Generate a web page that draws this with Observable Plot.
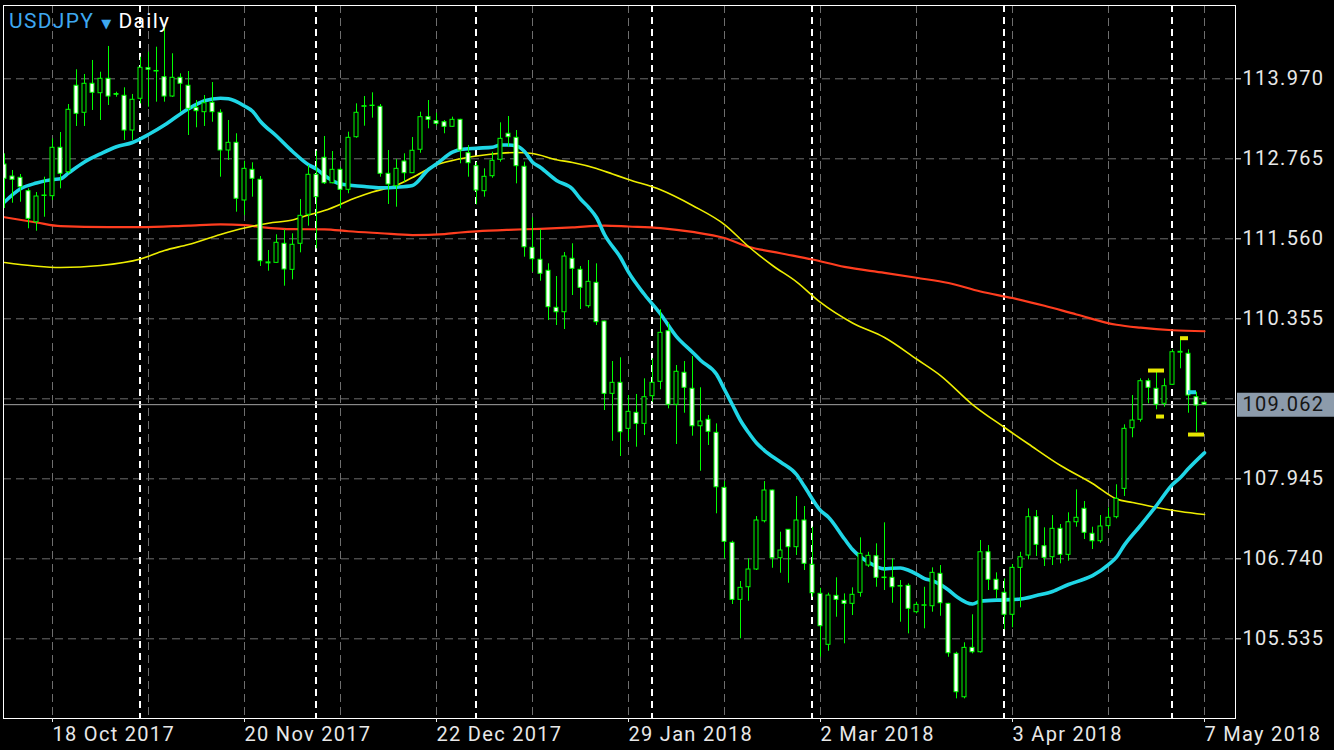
<!DOCTYPE html>
<html>
<head>
<meta charset="utf-8">
<script src="https://cdn.jsdelivr.net/npm/d3@7"></script>
<script src="https://cdn.jsdelivr.net/npm/@observablehq/plot@0.6"></script>
<style>
  html, body { margin: 0; padding: 0; background: #000; }
  #chart svg text { letter-spacing: 1.3px; }
</style>
</head>
<body>
<div id="chart"></div>
<script>
// ---- Data (USDJPY daily) ----
const symbol = "USDJPY";
const period = "Daily";

const open = [112.679,112.498,112.479,112.277,111.810,112.205,112.202,112.931,112.563,113.865,
113.458,113.895,113.753,113.970,113.740,113.714,113.191,113.669,114.130,114.080,
113.994,113.703,113.985,113.865,113.533,113.467,113.609,113.458,112.890,113.006,
112.137,112.599,112.449,111.190,111.198,111.485,111.093,111.485,111.922,112.524,
112.780,112.397,112.599,112.298,113.090,113.548,113.560,113.548,112.539,112.352,
112.724,112.548,112.901,113.392,113.331,113.316,113.247,113.352,112.849,112.654,
112.277,112.503,112.750,113.142,113.081,112.645,111.424,111.244,111.078,110.521,
110.454,111.259,111.093,110.545,110.897,110.314,109.225,109.391,108.698,108.939,
108.773,109.189,109.406,110.168,109.060,109.542,109.301,108.737,108.834,108.638,
107.809,106.981,106.122,106.312,106.579,107.306,107.769,106.749,107.177,106.915,
107.317,106.650,106.213,105.445,106.182,106.107,106.062,106.228,106.639,106.779,
106.450,106.454,106.322,106.333,105.936,106.033,106.026,106.514,106.062,105.309,
104.655,105.399,105.333,106.839,106.424,106.228,105.897,106.604,106.790,107.367,
106.930,106.764,107.192,106.800,107.291,107.493,107.117,107.005,107.232,107.367,
107.794,108.707,108.834,109.415,109.301,109.075,109.361,109.845,109.828,109.174,
109.090];

const high = [112.840,112.589,112.529,112.313,112.257,112.488,113.066,113.161,113.583,114.106,
114.035,114.246,114.069,114.457,113.768,113.834,113.734,114.295,114.371,114.446,
114.738,114.347,114.045,114.080,113.643,113.718,113.914,113.503,113.342,113.142,
112.729,112.705,112.498,111.384,111.620,111.696,111.635,112.152,112.664,112.879,
113.101,112.875,112.629,113.166,113.593,113.703,113.759,113.583,112.890,112.754,
112.840,113.086,113.467,113.643,113.452,113.342,113.392,113.360,112.965,112.709,
112.614,112.864,113.307,113.402,113.191,112.714,111.876,111.696,111.183,110.992,
111.354,111.485,111.143,111.233,111.183,110.320,109.712,109.768,109.200,109.215,
109.451,109.753,110.491,110.295,109.652,109.712,109.787,109.316,108.898,108.773,
107.904,107.005,106.398,106.740,107.377,107.904,107.775,107.141,107.180,107.678,
107.528,107.216,106.297,106.222,106.454,106.212,106.303,107.056,106.839,106.966,
107.282,106.740,106.413,106.363,106.087,106.312,106.604,106.639,106.070,105.333,
105.475,105.897,107.016,106.940,106.529,106.439,106.654,106.839,107.493,107.468,
107.207,107.392,107.257,107.433,107.779,107.603,107.216,107.392,107.508,107.855,
108.758,109.200,109.451,109.451,109.551,109.451,109.888,110.054,109.888,109.249,
109.100];

const low = [112.016,112.096,112.111,111.711,111.674,111.885,112.137,112.313,112.540,113.252,
113.252,113.493,113.342,113.568,113.693,113.041,113.041,113.593,113.542,113.618,
113.618,113.690,113.467,113.116,113.232,113.252,113.316,112.488,112.739,111.961,
111.911,112.187,111.143,111.072,111.190,110.846,110.942,111.349,111.750,111.409,
112.378,112.388,112.012,112.238,113.075,113.256,113.377,112.488,112.077,112.036,
112.413,112.543,112.849,113.217,113.256,113.142,113.237,112.690,112.488,112.072,
112.187,112.473,112.714,112.940,112.388,111.283,111.057,110.921,110.329,110.254,
110.194,110.706,110.495,110.515,110.254,108.974,108.511,108.281,108.511,108.421,
108.597,109.099,109.286,108.999,108.462,108.933,108.587,108.059,108.447,107.418,
106.740,106.052,105.535,106.101,106.564,107.281,106.598,106.523,106.372,106.790,
106.564,106.162,105.258,105.348,105.860,105.460,105.886,106.162,106.610,106.312,
106.263,106.071,105.785,105.610,105.911,105.686,105.936,105.875,105.258,104.631,
104.631,105.309,105.320,106.263,106.138,105.671,105.701,106.002,106.725,106.775,
106.624,106.639,106.665,106.704,107.216,107.031,106.880,106.975,107.181,107.342,
107.678,108.563,108.798,109.075,108.984,109.023,109.355,109.602,108.933,108.647,
109.050];

const close = [112.464,112.449,112.337,111.861,112.197,112.212,112.931,112.539,113.503,113.443,
113.895,113.759,113.970,113.703,113.730,113.191,113.654,114.136,114.106,114.088,
113.703,113.985,113.895,113.518,113.482,113.602,113.467,112.890,113.006,112.163,
112.614,112.464,111.223,111.205,111.500,111.098,111.470,111.906,112.524,112.187,
112.397,112.599,112.298,113.081,113.458,113.558,113.566,112.539,112.378,112.614,
112.548,112.886,113.392,113.352,113.292,113.247,113.352,112.890,112.699,112.288,
112.494,112.735,113.066,113.090,112.654,111.433,111.253,111.033,110.530,110.454,
111.293,111.108,110.822,110.912,110.304,109.225,109.391,108.647,108.954,108.773,
109.174,109.391,110.144,109.060,109.557,109.316,108.737,108.808,108.653,107.818,
106.996,106.122,106.303,106.579,107.317,107.769,106.749,106.865,106.915,107.317,
106.665,106.222,105.725,106.187,106.122,106.062,106.198,106.815,106.785,106.454,
106.458,106.312,106.330,105.987,106.047,106.040,106.529,106.071,105.318,104.731,
105.399,105.333,106.839,106.424,106.273,105.897,106.604,106.764,107.367,106.951,
106.755,107.192,106.800,107.291,107.358,107.132,107.005,107.227,107.358,107.644,
108.698,108.823,109.415,109.316,109.060,109.340,109.852,109.858,109.200,109.049,
109.062];

// moving averages (bar index -> value)
const cyanBars = [0,2,4,6,7,8,10,12,14,16,18,20,21,23,25,27,28,30,31,32,34,36,38,39,40,42,45,47,49,51,53,54,56,57,59,61,62,63,64,65,66,67,69,71,72,73,74,75,77,78,80,82,84,86,87,89,90,91,92,93,94,95,97,99,100,102,103,105,106,108,110,111,112,113,114,115,116,118,119,121,122,125,127,129,131,133,135,136,138,139,140,142,144,146,147,148,150];
const cyanVals = [112.114,112.313,112.400,112.453,112.464,112.551,112.717,112.840,112.946,113.011,113.131,113.274,113.357,113.518,113.639,113.678,113.669,113.560,113.482,113.327,113.108,112.875,112.675,112.611,112.513,112.385,112.348,112.328,112.337,112.363,112.604,112.687,112.864,112.905,112.925,112.940,112.973,112.973,112.958,112.875,112.714,112.634,112.438,112.310,112.159,112.036,111.881,111.625,111.278,111.057,110.721,110.427,110.088,109.852,109.731,109.519,109.290,109.057,108.823,108.642,108.484,108.371,108.198,108.010,107.829,107.468,107.367,107.038,106.880,106.689,106.589,106.598,106.601,106.567,106.511,106.443,106.409,106.270,106.172,106.059,106.104,106.122,106.134,106.187,106.247,106.353,106.436,106.488,106.654,106.765,106.950,107.242,107.543,107.859,107.965,108.100,108.337];

const yellowBars = [0,7,12,17,20,23,27,30,33,36,38,40,44,46,49,51,54,56,59,61,64,66,69,71,74,76,78,82,86,90,93,96,99,102,106,110,114,117,121,125,128,132,136,139,141,144,147,150];
const yellowVals = [111.203,111.128,111.158,111.256,111.384,111.474,111.625,111.723,111.795,111.843,111.918,111.986,112.182,112.265,112.367,112.483,112.672,112.739,112.807,112.837,112.860,112.845,112.751,112.709,112.619,112.536,112.453,112.298,112.062,111.775,111.444,111.158,110.912,110.601,110.292,110.073,109.750,109.501,109.064,108.718,108.469,108.145,107.874,107.641,107.588,107.513,107.453,107.407];

const redBars = [0,4,7,13,17,23,27,30,32,36,40,43,47,51,55,57,59,63,67,71,75,78,82,86,90,93,97,101,105,110,114,118,122,126,130,134,139,142,146,150];
const redVals = [111.885,111.806,111.750,111.735,111.735,111.760,111.778,111.765,111.738,111.705,111.703,111.674,111.644,111.616,111.631,111.655,111.673,111.696,111.711,111.733,111.760,111.745,111.721,111.664,111.572,111.441,111.343,111.248,111.137,111.048,110.973,110.894,110.766,110.668,110.551,110.420,110.265,110.221,110.183,110.168];

// short level markers near the last bars
const markerFrom   = [143, 144, 147, 148, 148];
const markerTo     = [145, 145, 148, 150, 149];
const markerPrice  = [109.576, 108.883, 110.063, 108.612, 109.249];
const markerColor  = ["#e8e800", "#e8e800", "#e8e800", "#e8e800", "#1fd6e6"];

// axes
const labelPrices = [105.535, 106.740, 107.945, 110.355, 111.560, 112.765, 113.970];
const gridPrices  = [105.535, 106.740, 107.945, 109.150, 110.355, 111.560, 112.765, 113.970];
const tickBars    = [6, 30, 54, 78, 102, 126, 150];
const tickLabels  = ["18 Oct 2017", "20 Nov 2017", "22 Dec 2017", "29 Jan 2018", "2 Mar 2018", "3 Apr 2018", "7 May 2018"];
const gridBars    = [6, 18, 30, 42, 54, 66, 78, 90, 102, 114, 126, 138, 150];
const monthStartBars = [17, 39, 59, 81, 101, 125, 146];
const lastPrice = 109.062;

// ---- build tables ----
const candles = close.map((c, i) => ({i, open: open[i], high: high[i], low: low[i], close: c}));
const cyanMA = cyanBars.map((b, k) => ({i: b, v: cyanVals[k]}));
const yellowMA = yellowBars.map((b, k) => ({i: b, v: yellowVals[k]}));
const redMA = redBars.map((b, k) => ({i: b, v: redVals[k]}));
const markers = markerFrom.map((f, k) => ({from: f, to: markerTo[k], price: markerPrice[k], color: markerColor[k]}));

const GREEN = "#00ff00";

const chart = Plot.plot({
  width: 1334,
  height: 750,
  marginLeft: 3,
  marginRight: 99,
  marginTop: 5,
  marginBottom: 32,
  x: {type: "linear", domain: [-0.125, 153.875]},
  y: {type: "linear", domain: [104.335, 115.074]},
  style: {background: "#000", color: "#e8e8e8", fontFamily: "Roboto, sans-serif", fontSize: "20px", overflow: "visible"},
  marks: [
    Plot.ruleY(gridPrices, {stroke: "#6e6e6e", strokeWidth: 1, strokeDasharray: "8,5"}),
    Plot.ruleX(gridBars, {stroke: "#6e6e6e", strokeWidth: 1, strokeDasharray: "8,5"}),
    Plot.ruleX(monthStartBars, {stroke: "#ffffff", strokeWidth: 2, strokeDasharray: "7,5", dx: -0.5}),
    Plot.ruleY([lastPrice], {stroke: "#a3a3a3", strokeWidth: 1}),
    Plot.line(redMA, {x: "i", y: "v", stroke: "#ff3d1f", strokeWidth: 2.2, curve: "monotone-x", clip: true}),
    Plot.line(yellowMA, {x: "i", y: "v", stroke: "#eeee00", strokeWidth: 1.6, curve: "monotone-x", clip: true}),
    Plot.line(cyanMA, {x: "i", y: "v", stroke: "#1fd6e6", strokeWidth: 3.6, curve: "monotone-x", clip: true}),
    Plot.ruleX(candles, {x: "i", y1: "low", y2: "high", stroke: GREEN, strokeWidth: 1, clip: true}),
    Plot.rect(candles, {
      x1: d => d.i - 0.25, x2: d => d.i + 0.25,
      y1: "open", y2: "close",
      fill: d => d.close < d.open ? "#ffffff" : "#000000",
      stroke: GREEN, strokeWidth: 1, clip: true
    }),
    Plot.ruleY(markers, {y: "price", x1: "from", x2: "to", stroke: "color", strokeWidth: 4}),
    Plot.frame({stroke: "#ffffff", strokeWidth: 1}),
    Plot.axisY({anchor: "right", ticks: labelPrices, tickFormat: d => d.toFixed(3), tickSize: 5, tickPadding: 2, label: null}),
    Plot.axisX({anchor: "bottom", ticks: tickBars, tickFormat: d => tickLabels[tickBars.indexOf(d)], tickSize: 4, tickPadding: 4, textAnchor: "start", label: null}),
    Plot.ruleY([lastPrice], {stroke: "#8c9bab", strokeWidth: 24, insetLeft: 1234, insetRight: -99}),
    Plot.text([lastPrice], {y: d => d, frameAnchor: "right", dx: 7, textAnchor: "start", text: d => d.toFixed(3), fill: "#151515"})
  ]
});

// symbol / timeframe caption inside the chart, top-left
const svg = d3.select(chart);
const t = svg.append("text")
  .attr("x", 9).attr("y", 27.5)
  .attr("text-anchor", "start")
  .attr("font-family", "Roboto, sans-serif")
  .attr("font-size", 21);
t.append("tspan").attr("fill", "#3ea8f0").text(symbol);
t.append("tspan").attr("fill", "#3ea8f0").attr("font-size", 13).attr("dx", 7).attr("font-family", "DejaVu Sans").text("\u25BC");
t.append("tspan").attr("fill", "#ffffff").attr("dx", 6).text(period);

document.getElementById("chart").appendChild(chart);
</script>
</body>
</html>
